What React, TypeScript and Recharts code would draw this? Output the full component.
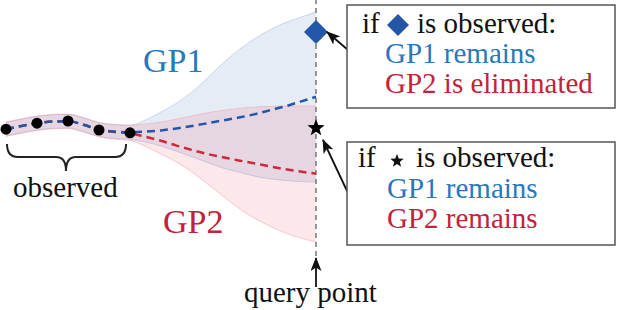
import React from 'react';
import { ComposedChart, Area, Line, Scatter, XAxis, YAxis, ReferenceLine } from 'recharts';

const xs = [0, 0.5, 1, 1.5, 2, 2.5, 3, 3.5, 4, 4.5, 5, 5.5, 6, 6.5, 7, 7.5, 8, 8.5, 9, 9.5, 10];
const gp1Mean = [0.07, 0.15, 0.22, 0.26, 0.27, 0.18, 0.06, 0.01, -0.01, 0.01, 0.04, 0.09, 0.15, 0.22, 0.29, 0.36, 0.44, 0.54, 0.64, 0.76, 0.88];
const gp1Upper = [0.24, 0.32, 0.39, 0.43, 0.44, 0.35, 0.23, 0.18, 0.17, 0.3, 0.5, 0.72, 1.0, 1.35, 1.72, 2.05, 2.32, 2.55, 2.73, 2.87, 3.0];
const gp1Lower = [-0.1, -0.02, 0.05, 0.09, 0.1, 0.01, -0.11, -0.16, -0.18, -0.25, -0.35, -0.48, -0.62, -0.76, -0.9, -1.0, -1.1, -1.17, -1.21, -1.24, -1.25];
const gp2Mean = [0.07, 0.15, 0.22, 0.26, 0.27, 0.18, 0.06, 0.0, -0.03, -0.12, -0.22, -0.34, -0.45, -0.55, -0.63, -0.71, -0.78, -0.86, -0.93, -0.99, -1.04];
const gp2Upper = [0.25, 0.33, 0.4, 0.44, 0.45, 0.36, 0.24, 0.19, 0.17, 0.2, 0.25, 0.32, 0.4, 0.48, 0.54, 0.59, 0.62, 0.64, 0.65, 0.65, 0.65];
const gp2Lower = [-0.11, -0.03, 0.04, 0.08, 0.09, 0.0, -0.12, -0.18, -0.21, -0.36, -0.55, -0.75, -1.0, -1.3, -1.6, -1.9, -2.15, -2.35, -2.52, -2.65, -2.75];

const obsX = [0, 1, 2, 3, 4];
const obsY = [0.07, 0.22, 0.275, 0.05, -0.02];

const queryX = 10;
const diamondY = 2.5;
const starY = 0.1;

const data = xs.map((x, i) => ({
  x,
  gp1: gp1Mean[i],
  gp1Band: [gp1Lower[i], gp1Upper[i]],
  gp2: gp2Mean[i],
  gp2Band: [gp2Lower[i], gp2Upper[i]],
}));
const observed = obsX.map((x, i) => ({ x, y: obsY[i] }));

const BLUE = '#2456a8';
const RED = '#d0283a';
const TBLUE = '#2878bd';
const TRED = '#c4223a';
const FONT = 'Liberation Serif';

const Diamond = (p: any) => (
  <path d={`M${p.cx},${p.cy - 12} L${p.cx + 12},${p.cy} L${p.cx},${p.cy + 12} L${p.cx - 12},${p.cy} Z`} fill={BLUE} />
);

const starPath = (cx: number, cy: number, r: number) => {
  const pts: string[] = [];
  for (let i = 0; i < 10; i++) {
    const a = -Math.PI / 2 + (i * Math.PI) / 5;
    const rr = i % 2 === 0 ? r : r * 0.42;
    pts.push(`${cx + rr * Math.cos(a)},${cy + rr * Math.sin(a)}`);
  }
  return `M${pts.join('L')}Z`;
};

const Star = (p: any) => <path d={starPath(p.cx, p.cy, 9)} fill="#000" />;
const Dot = (p: any) => <circle cx={p.cx} cy={p.cy} r={5.5} fill="#000" />;

const T = ({ x, y, size = 29, color = '#111', children }: any) => (
  <text x={x} y={y} style={{ fontFamily: FONT, fontSize: size, fill: color }}>
    {children}
  </text>
);

// annotations (labels, brace, arrows, boxes) drawn on top of the chart
function Overlay() {
  return (
    <svg width={620} height={310} style={{ position: 'absolute', left: 0, top: 0, pointerEvents: 'none' }}>
      <defs>
        <marker id="ah" viewBox="0 0 14 11" refX="13" refY="5.5" markerWidth="14" markerHeight="11" markerUnits="userSpaceOnUse" orient="auto">
          <path d="M0,0 L14,5.5 L0,11 L3.5,5.5 Z" fill="#111" />
        </marker>
      </defs>
      <T x={143} y={72} size={34} color={TBLUE}>GP1</T>
      <T x={163} y={233} size={34} color={TRED}>GP2</T>

      <path d="M7,144 Q7,157 18,157 L56,157 Q66,157 66,171 Q66,157 76,157 L115,157 Q126,157 126,144" fill="none" stroke="#222" strokeWidth={2} />
      <T x={13} y={197}>observed</T>

      <line x1={316} y1={287} x2={316} y2={258} stroke="#111" strokeWidth={1.8} markerEnd="url(#ah)" />
      <T x={244} y={302}>query point</T>

      <line x1={348} y1={50} x2={327} y2={32} stroke="#111" strokeWidth={1.8} markerEnd="url(#ah)" />
      <line x1={348} y1={193} x2={323} y2={140} stroke="#111" strokeWidth={1.8} markerEnd="url(#ah)" />

      <rect x={347} y={5} width={268} height={103} fill="#fff" stroke="#555" strokeWidth={1.5} />
      <T x={362} y={33}>if</T>
      <path d="M398,14 L409,25 L398,36 L387,25 Z" fill={BLUE} />
      <T x={417} y={33}>is observed:</T>
      <T x={385} y={63} color={TBLUE}>GP1 remains</T>
      <T x={385} y={93} color={TRED}>GP2 is eliminated</T>

      <rect x={347} y={142} width={268} height={103} fill="#fff" stroke="#555" strokeWidth={1.5} />
      <T x={358} y={167}>if</T>
      <path d={starPath(397, 161, 7)} fill="#111" />
      <T x={416} y={167}>is observed:</T>
      <T x={387} y={198} color={TBLUE}>GP1 remains</T>
      <T x={387} y={228} color={TRED}>GP2 remains</T>
    </svg>
  );
}

export default function App() {
  return (
    <div style={{ position: 'absolute', left: 0, top: 0, width: 620, height: 310, background: '#fff' }}>
      <ComposedChart width={620} height={310} data={data} margin={{ top: 0, right: 304, bottom: 54, left: 6 }}>
        <XAxis type="number" dataKey="x" domain={[0, 10]} hide />
        <YAxis type="number" domain={[-3.1, 3.3]} hide allowDataOverflow />
        <Area type="monotone" dataKey="gp1Band" fill="#6f96cc" fillOpacity={0.18} stroke="#9db8e0" strokeOpacity={0.5} strokeWidth={1} isAnimationActive={false} />
        <Area type="monotone" dataKey="gp2Band" fill="#e86070" fillOpacity={0.15} stroke="#f0a0a8" strokeOpacity={0.5} strokeWidth={1} isAnimationActive={false} />
        <ReferenceLine x={queryX} stroke="#777" strokeWidth={1.5} strokeDasharray="5 4" />
        <Scatter data={observed} dataKey="y" shape={<Dot />} isAnimationActive={false} />
        <Line type="monotone" dataKey="gp2" stroke={RED} strokeWidth={2.5} strokeDasharray="8 5" dot={false} isAnimationActive={false} />
        <Line type="monotone" dataKey="gp1" stroke={BLUE} strokeWidth={2.5} strokeDasharray="8 5" dot={false} isAnimationActive={false} />
        <Scatter data={[{ x: queryX, y: diamondY }]} dataKey="y" shape={<Diamond />} isAnimationActive={false} />
        <Scatter data={[{ x: queryX, y: starY }]} dataKey="y" shape={<Star />} isAnimationActive={false} />
      </ComposedChart>
      <Overlay />
    </div>
  );
}
